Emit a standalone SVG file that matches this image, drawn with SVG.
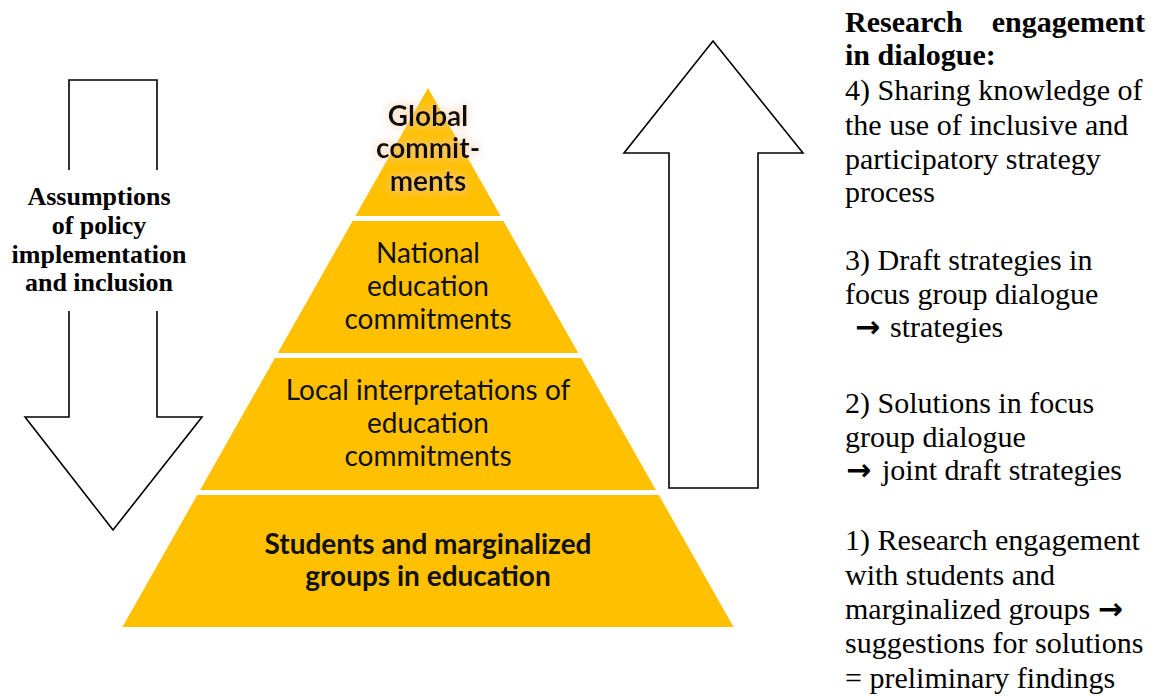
<svg xmlns="http://www.w3.org/2000/svg" width="1165" height="696" viewBox="0 0 1165 696">
<style>
.tier{fill:#FFC000;}
.arrow{fill:#fff;stroke:#000;stroke-width:1.6;stroke-linejoin:miter;}
.pt{font-family:Lato,"Open Sans","Liberation Sans",sans-serif;font-size:28px;fill:#111;text-anchor:middle;}
.pb{font-weight:bold;}
.lt{font-family:"Liberation Serif","Times New Roman",serif;font-size:26px;font-weight:bold;fill:#000;text-anchor:middle;}
.rt{font-family:"Liberation Serif","Times New Roman",serif;font-size:30px;fill:#000;}
.rb{font-weight:bold;}
.ar{font-family:"DejaVu Sans",sans-serif;font-size:30px;font-weight:bold;}
</style>
<defs>
<filter id="glow" x="-30%" y="-30%" width="160%" height="160%">
<feMorphology in="SourceAlpha" operator="dilate" radius="2" result="d"/>
<feGaussianBlur in="d" stdDeviation="4" result="b"/>
<feFlood flood-color="#F6C9A4" flood-opacity="0.5"/>
<feComposite in2="b" operator="in" result="g"/>
<feMerge><feMergeNode in="g"/><feMergeNode in="SourceGraphic"/></feMerge>
</filter>
</defs>
<rect width="1165" height="696" fill="#fff"/>
<g id="connectors">
<path id="down-arrow" class="arrow" fill="none" d="M69,170 V80 H157 V170"/>
<path class="arrow" d="M157,311 V417 H202 L113,530 L25,417 H69 V311"/>
<path id="up-arrow" class="arrow" d="M669,488 V153 H624 L713,41 L803,153 H758 V488 Z"/>
</g>
<g id="label-assumptions">
<text class="lt" x="99" y="205">Assumptions</text>
<text class="lt" x="99" y="234">of policy</text>
<text class="lt" x="99" y="262.5">implementation</text>
<text class="lt" x="99" y="291">and inclusion</text>
</g>
<g id="tier-global">
<polygon class="tier" points="428,88 500.6,216 355.4,216"/>
<g filter="url(#glow)">
<text class="pt pb" x="428" y="125.7">Global</text>
<text class="pt pb" x="428" y="158">commit-</text>
<text class="pt pb" x="428" y="191.4">ments</text>
</g>
</g>
<g id="tier-national">
<polygon class="tier" points="352.6,221 503.4,221 578.3,353 277.7,353"/>
<text class="pt" x="428" y="263">National</text>
<text class="pt" x="428" y="295.5">education</text>
<text class="pt" x="428" y="329">commitments</text>
</g>
<g id="tier-local">
<polygon class="tier" points="274.9,358 581.1,358 655.9,490 200.1,490"/>
<text class="pt" x="428" y="399.6">Local interpretations of</text>
<text class="pt" x="428" y="433">education</text>
<text class="pt" x="428" y="465.7">commitments</text>
</g>
<g id="tier-students">
<polygon class="tier" points="197.2,495 658.8,495 733.6,627 122.4,627"/>
<text class="pt pb" x="428" y="554">Students and marginalized</text>
<text class="pt pb" x="428" y="586.4">groups in education</text>
</g>
<g id="label-research">
<text class="rt rb" x="845" y="31.7">Research</text>
<text class="rt rb" x="1145" y="31.7" text-anchor="end">engagement</text>
<text class="rt rb" x="845" y="65">in dialogue:</text>
<text class="rt" x="845" y="100">4) Sharing knowledge of</text>
<text class="rt" x="845" y="135">the use of inclusive and</text>
<text class="rt" x="845" y="168.5">participatory strategy</text>
<text class="rt" x="845" y="202">process</text>
<text class="rt" x="845" y="270">3) Draft strategies in</text>
<text class="rt" x="845" y="303.5">focus group dialogue</text>
<text class="rt" x="845" y="337"><tspan class="ar" x="855">→</tspan><tspan x="890">strategies</tspan></text>
<text class="rt" x="845" y="412.5">2) Solutions in focus</text>
<text class="rt" x="845" y="446.5">group dialogue</text>
<text class="rt" x="845" y="480"><tspan class="ar" x="846">→</tspan><tspan x="882">joint draft strategies</tspan></text>
<text class="rt" x="845" y="550">1) Research engagement</text>
<text class="rt" x="845" y="585">with students and</text>
<text class="rt" x="845" y="618.5">marginalized groups <tspan class="ar">→</tspan></text>
<text class="rt" x="845" y="653">suggestions for solutions</text>
<text class="rt" x="845" y="688">= preliminary findings</text>
</g>
</svg>
